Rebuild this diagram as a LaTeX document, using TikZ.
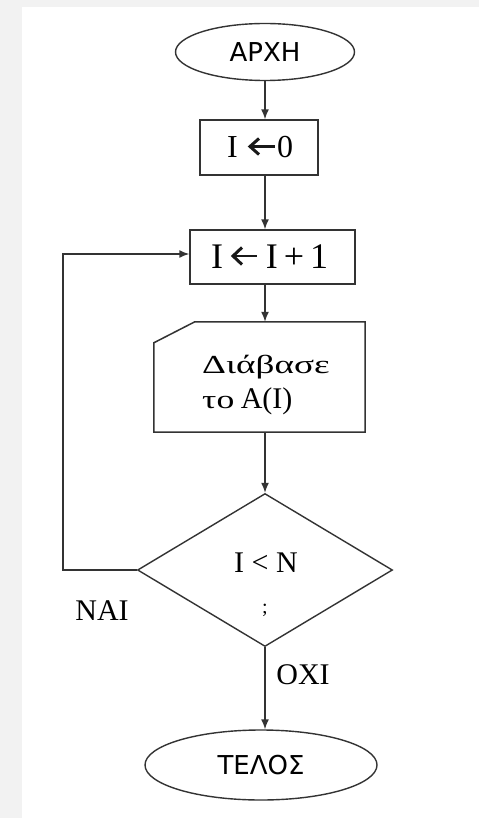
\documentclass[tikz,border=0pt]{standalone}
\usepackage{fontspec}
\setmainfont{Liberation Serif}
\newfontfamily\sansgr{DejaVu Sans}
\usetikzlibrary{shapes.geometric,arrows.meta,calc}
\begin{document}
\begin{tikzpicture}[x=1pt,y=-1pt,
  line/.style={draw=black!80,line width=1.5pt},
  arr/.style={line,-{Latex[length=10pt,width=8pt]}},
  term/.style={ellipse,draw=black!80,line width=1.4pt,inner sep=0pt,font=\sansgr\fontsize{26}{30}\selectfont},
  proc/.style={rectangle,draw=black!80,line width=1.4pt,inner sep=0pt},
  lbl/.style={inner sep=0pt,font=\fontsize{30}{34}\selectfont},
  glyph/.style={draw=black!90,line width=3pt,line cap=butt,line join=miter}]
\fill[black!5] (0,0) rectangle (479,818);
\fill[white] (22,7) rectangle (479,818);
\useasboundingbox (0,0) rectangle (479,818);

% terminals and boxes
\node[term,minimum width=179pt,minimum height=57pt] (start) at (265,52) {ΑΡΧΗ};
\node[proc,minimum width=118pt,minimum height=55pt] (b1) at (259,147.5) {};
\node[proc,minimum width=165pt,minimum height=54pt] (b2) at (272.5,257) {};

% box 1 text: I <- 0
\node[lbl,font=\fontsize{32}{36}\selectfont] (b1i) at (232.5,147.5) {I};
\node[lbl,font=\fontsize{32}{36}\selectfont] (b1z) at (285,147.5) {0};
\draw[glyph] (259,138.5) -- (250,146.5) -- (259,154.5);
\draw[draw=black!90,line width=2.6pt] (251,146.5) -- (275,146.5);

% box 2 text: I <- I + 1
\node[lbl,font=\fontsize{36}{40}\selectfont] (b2i) at (217,257) {I};
\node[lbl,font=\fontsize{36}{40}\selectfont] (b2r) at (297,257) {I\,+\,1};
\draw[glyph] (242,247.5) -- (233,256) -- (242,264.5);
\draw[draw=black!90,line width=2.6pt] (234,256) -- (257,256);

% read box
\node[rectangle,minimum width=211pt,minimum height=110pt,inner sep=0pt] (rd) at (259.5,377) {};
\draw[line] (rd.south west) -- ($(rd.north west)+(0,21)$) -- ($(rd.north west)+(41,0)$) -- (rd.north east) -- (rd.south east) -- cycle;
\node[inner sep=0pt,anchor=base west] (rdt1) at (202,373) {\fontsize{26}{30}\selectfont\scalebox{1.43}[1]{Διάβασε}};
\node[inner sep=0pt,anchor=base west] (rdt2) at (202,408) {\fontsize{26}{30}\selectfont\scalebox{1.37}[1]{το}\ \fontsize{30}{34}\selectfont A(I)};

% decision
\node[diamond,draw=black!80,line width=1.4pt,minimum width=255pt,minimum height=153pt,inner sep=0pt] (dec) at (265,570) {};
\node[lbl,anchor=base] (dect) at (266,572) {I < N};
\node[inner sep=0pt,anchor=base,font=\fontsize{20}{20}\selectfont] (decq) at (265,613) {;};
\node[lbl] (yes) at (102,611) {ΝΑΙ};
\node[lbl] (no) at (303,675) {ΟΧΙ};
\node[term,minimum width=232pt,minimum height=70pt] (end) at (261,765) {ΤΕΛΟΣ};

% connectors
\coordinate (lp) at (63,254);
\draw[arr] (start.south) -- (start.south |- b1.north);
\draw[arr] (b1.south -| start.south) -- (b2.north -| start.south);
\draw[arr] (b2.south -| start.south) -- (rd.north -| start.south);
\draw[arr] (rd.south -| start.south) -- (dec.north -| start.south);
\draw[arr] (dec.south -| start.south) -- (end.north -| start.south);
\draw[arr] (dec.west) -- (dec.west -| lp) -- (lp) -- (lp -| b2.west);
\end{tikzpicture}
\end{document}
